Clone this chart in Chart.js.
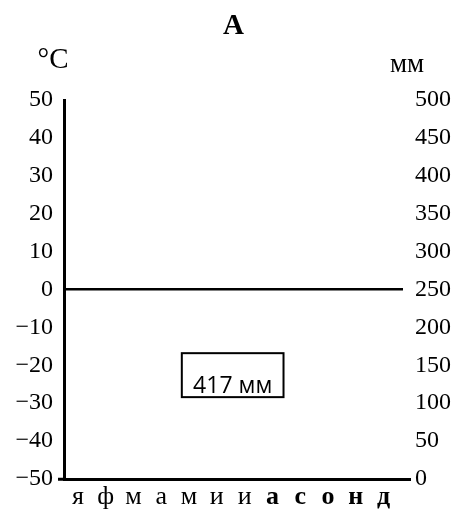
<!DOCTYPE html>
<html>
<head>
<meta charset="utf-8">
<script src="https://cdn.jsdelivr.net/npm/chart.js@4.4.0/dist/chart.umd.min.js"></script>
<style>
  html, body { margin: 0; padding: 0; background: #fff; }
  canvas { display: block; }
</style>
</head>
<body>
<canvas id="climate" width="457" height="509"></canvas>
<script>
// Климатодиаграмма (пустой шаблон)
const chartTitle = 'A';
const months = ['я', 'ф', 'м', 'а', 'м', 'и', 'и', 'а', 'с', 'о', 'н', 'д'];
const monthBold = [false, false, false, false, false, false, false, true, true, true, true, true];
const tempTicks = [50, 40, 30, 20, 10, 0, -10, -20, -30, -40, -50];
const precipTicks = [0, 50, 100, 150, 200, 250, 300, 350, 400, 450, 500];
const tempValues = [];
const precipValues = [];
const annualPrecip = 417;
const unitLeft = '°C';
const unitRight = 'мм';

const serif = '"Liberation Serif", "Times New Roman", serif';

const labelsPlugin = {
  id: 'labels',
  afterDraw(chart) {
    const { ctx, chartArea, scales } = chart;
    ctx.save();
    ctx.fillStyle = '#000';

    // title
    ctx.font = 'bold 29px ' + serif;
    ctx.textAlign = 'center';
    ctx.textBaseline = 'alphabetic';
    ctx.fillText(chartTitle, (chartArea.left + chartArea.right) / 2, 34);

    // units
    ctx.font = '29px ' + serif;
    ctx.fillText(unitLeft, 53, 68);
    ctx.font = '27px ' + serif;
    ctx.fillText(unitRight, 407, 72);

    // annual precipitation box
    const x0 = scales.x.getPixelForValue(4.24);
    const x1 = scales.x.getPixelForValue(7.9);
    const y0 = scales.yP.getPixelForValue(166);
    const y1 = scales.yP.getPixelForValue(108);
    ctx.lineWidth = 2;
    ctx.strokeStyle = '#000';
    ctx.strokeRect(x0, y0, x1 - x0, y1 - y0);
    ctx.font = '23px "Open Sans", sans-serif';
    ctx.fillText(annualPrecip + ' мм', (x0 + x1) / 2, y1 - 4);
    ctx.restore();
  }
};

new Chart(document.getElementById('climate'), {
  type: 'line',
  data: {
    datasets: [
      { label: 'Температура', data: tempValues, yAxisID: 'yT', borderColor: '#d00000' },
      { label: 'Осадки', data: precipValues, yAxisID: 'yP', borderColor: '#0000d0' }
    ]
  },
  options: {
    responsive: false,
    animation: false,
    layout: { padding: { top: 100, left: 0, right: 0, bottom: 0 } },
    plugins: { legend: { display: false }, tooltip: { enabled: false } },
    scales: {
      x: {
        type: 'linear',
        min: 0,
        max: 12.2,
        afterBuildTicks: (axis) => { axis.ticks = months.map((m, i) => ({ value: i + 0.5 })); },
        afterFit: (axis) => { axis.height = 30; },
        grid: { drawOnChartArea: false, drawTicks: false },
        border: { display: true, color: '#000', width: 3 },
        ticks: {
          padding: 3,
          color: '#000',
          autoSkip: false,
          maxRotation: 0,
          callback: (v, i) => months[i],
          font: (c) => ({ family: serif, size: 26, weight: monthBold[c.index] ? 'bold' : 'normal' })
        }
      },
      yT: {
        type: 'linear',
        position: 'left',
        min: -50,
        max: 50,
        afterBuildTicks: (axis) => { axis.ticks = tempTicks.map(v => ({ value: v })); },
        afterFit: (axis) => { axis.width = 64; },
        grid: {
          drawTicks: true,
          tickLength: 6,
          lineWidth: 2.5,
          tickWidth: 3,
          color: (c) => c.tick && c.tick.value === 0 ? '#000' : 'rgba(0,0,0,0)',
          tickColor: (c) => c.tick && c.tick.value === -50 ? '#000' : 'rgba(0,0,0,0)'
        },
        border: { display: true, color: '#000', width: 3 },
        ticks: {
          padding: 5,
          color: '#000',
          font: { family: serif, size: 24 },
          callback: (v) => v < 0 ? '\u2212' + Math.abs(v) : String(v)
        }
      },
      yP: {
        type: 'linear',
        position: 'right',
        min: 0,
        max: 500,
        afterBuildTicks: (axis) => { axis.ticks = precipTicks.map(v => ({ value: v })); },
        afterFit: (axis) => { axis.width = 54; },
        grid: {
          drawOnChartArea: false,
          drawTicks: true,
          tickLength: 8,
          tickWidth: 3,
          tickColor: (c) => c.tick && c.tick.value === 0 ? '#000' : 'rgba(0,0,0,0)'
        },
        border: { display: false },
        ticks: {
          padding: 4,
          color: '#000',
          font: { family: serif, size: 24 },
          callback: (v) => String(v)
        }
      }
    }
  },
  plugins: [labelsPlugin]
});
</script>
</body>
</html>
